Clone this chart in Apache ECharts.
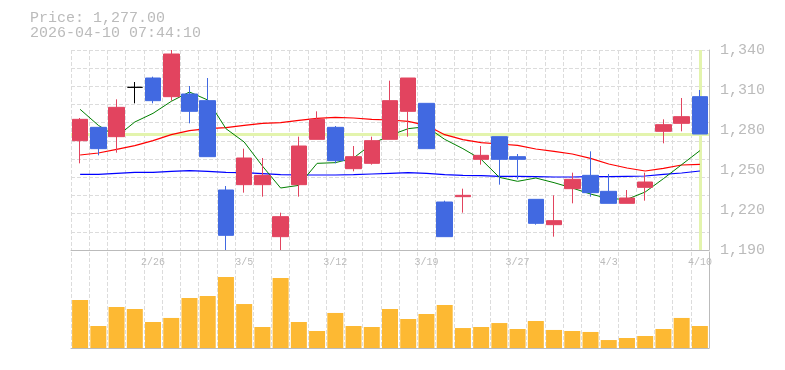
<!DOCTYPE html>
<html><head><meta charset="utf-8">
<script src="https://cdn.jsdelivr.net/npm/echarts@6/dist/echarts.min.js"></script>
<style>html,body{margin:0;padding:0;background:#fff}#c{width:785px;height:370px}</style>
</head><body><div id="c"></div>
<script>
const dates = ['2/19','2/20','2/24','2/25','2/26','2/27','3/2','3/3','3/4','3/5','3/6','3/9','3/10','3/11','3/12','3/13','3/16','3/17','3/18','3/19','3/23','3/24','3/25','3/26','3/27','3/30','3/31','4/1','4/2','4/3','4/6','4/7','4/8','4/9','4/10'];
const opens  = [1272,1282,1275,1312,1319,1305,1307,1302,1235,1239,1239,1200,1239,1273,1282,1251,1255,1273,1294,1300,1226,1230,1258,1275,1260,1228,1209,1236,1246,1234,1225,1237,1279,1285,1305];
const closes = [1288,1266,1297,1312,1302,1337,1294,1260,1201,1259,1246,1215,1268,1288,1257,1260,1272,1302,1319,1266,1200,1231,1261,1258,1258,1210,1212,1243,1233,1225,1229,1241,1284,1290,1277];
const lows   = [1255,1261,1263,1300,1300,1302,1285,1260,1190,1233,1230,1190,1230,1273,1255,1249,1254,1273,1275,1266,1200,1218,1254,1239,1243,1209,1200,1225,1230,1225,1225,1227,1270,1279,1277];
const highs  = [1289,1282,1303,1316,1320,1340,1313,1319,1238,1266,1259,1218,1275,1294,1283,1268,1275,1317,1319,1300,1227,1236,1268,1275,1262,1228,1231,1248,1264,1247,1235,1248,1288,1304,1310];
const volumes = [50,22.9,42.7,40.6,27.1,31.3,52.1,54.2,74,45.8,21.9,72.9,27.1,17.7,36.5,22.9,21.9,40.6,30.2,35.4,44.8,20.8,21.9,26,19.8,28.1,18.8,17.7,16.7,8.3,10.4,12.5,19.8,31.3,22.9];
const ma5  = [1295.5,1283.5,1275,1286,1292.5,1301.5,1308.5,1302.5,1281,1271,1253,1236.5,1238.5,1255,1255.5,1259,1269.5,1276,1281,1282.5,1273,1266,1258,1244.5,1241.5,1244,1240.5,1236.5,1232,1228.5,1228,1233.5,1243.5,1254,1264.5];
const ma25 = [1261.25,1262.75,1265.5,1268.25,1272,1276.5,1279.5,1281,1281.75,1283.5,1285,1285.5,1287.25,1288.75,1289.5,1289,1288,1287.5,1286.5,1283.5,1276.5,1272.75,1270.5,1269.5,1268.5,1265.75,1264,1262,1258.75,1254.5,1251.5,1249.25,1251.25,1253.75,1254.25];
const ma75 = [1246.75,1246.75,1247.5,1248.25,1248.25,1249,1249.5,1249,1248.25,1248,1247.25,1246.5,1246.25,1246.25,1246.25,1246.5,1247,1247.5,1248,1247.5,1246.5,1246,1245.75,1245.25,1245.25,1245,1244.75,1244.75,1245,1245,1245.25,1245.5,1246.75,1247.75,1249.25];
const priceMin = 1190, priceMax = 1340, priceStep = 30;
const lastPrice = 1277;
const stamp = '2026-04-10 07:44:10';
const dojiIndex = [3];

const RED = '#E2445F', BLUE = '#4169E1', GRAY = '#bbbbbb', GRID = '#dcdcdc';
const candleData = dates.map((d, i) => {
  const v = [opens[i], closes[i], lows[i], highs[i]];
  if (dojiIndex.includes(i)) {
    return { value: v, itemStyle: { color: '#000', color0: '#000', borderColor: '#000', borderColor0: '#000', borderColorDoji: '#000' } };
  }
  return v;
});
const fmt = v => v.toLocaleString('en-US');
const chart = echarts.init(document.getElementById('c'), null, { renderer: 'canvas' });
const dash = { color: GRID, type: [4, 2], width: 1 };
chart.setOption({
  animation: false,
  backgroundColor: '#fff',
  title: {
    text: 'Price: ' + lastPrice.toLocaleString('en-US', { minimumFractionDigits: 2 }) + '\n' + stamp,
    left: 25, top: 6,
    textStyle: { fontFamily: 'Liberation Mono', fontSize: 15, lineHeight: 15, color: GRAY, fontWeight: 'normal' }
  },
  grid: [
    { left: 71, right: 76, top: 50, height: 200 },
    { left: 71, right: 76, top: 252, height: 96 }
  ],
  xAxis: [
    { type: 'category', gridIndex: 0, data: dates, boundaryGap: true,
      axisLine: { show: true, lineStyle: { color: GRAY } }, axisTick: { show: false },
      axisLabel: { interval: (i) => i % 5 === 4, margin: 7, fontFamily: 'Liberation Mono', fontSize: 10, color: GRAY },
      splitLine: { show: true, interval: 0, lineStyle: dash } },
    { type: 'category', gridIndex: 1, data: dates, boundaryGap: true,
      axisLine: { show: true, lineStyle: { color: GRAY } }, axisTick: { show: false },
      axisLabel: { show: false },
      splitLine: { show: true, interval: 0, lineStyle: dash } }
  ],
  yAxis: [
    { type: 'value', gridIndex: 0, position: 'right', min: priceMin, max: priceMax, interval: priceStep,
      axisLine: { show: true, lineStyle: { color: GRAY } }, axisTick: { show: false },
      splitLine: { show: false },
      axisLabel: { formatter: fmt, margin: 11, fontFamily: 'Liberation Mono', fontSize: 15, color: GRAY, verticalAlign: 'middle', padding: [6, 0, 0, 0] } },
    { type: 'value', gridIndex: 0, position: 'left', min: 0, max: 11, interval: 1,
      axisLine: { show: false }, axisTick: { show: false }, axisLabel: { show: false },
      splitLine: { show: true, lineStyle: dash } },
    { type: 'value', gridIndex: 1, position: 'right', min: 0, max: 100,
      axisLine: { show: true, lineStyle: { color: GRAY } }, axisTick: { show: false }, axisLabel: { show: false },
      splitLine: { show: false } }
  ],
  series: [
    { type: 'line', xAxisIndex: 0, yAxisIndex: 0, data: ma75, symbol: 'none', z: 2,
      lineStyle: { color: '#0000ff', width: 1.2 } },
    { type: 'line', xAxisIndex: 0, yAxisIndex: 0, data: ma25, symbol: 'none', z: 2,
      lineStyle: { color: '#ff0000', width: 1.2 } },
    { type: 'line', xAxisIndex: 0, yAxisIndex: 0, data: ma5, symbol: 'none', z: 2,
      lineStyle: { color: '#008000', width: 1 } },
    { type: 'candlestick', xAxisIndex: 0, yAxisIndex: 0, data: candleData, barWidth: 16, z: 3,
      itemStyle: { color: RED, color0: BLUE, borderColor: RED, borderColor0: BLUE, borderWidth: 1 },
      markLine: {
        silent: true, symbol: 'none', z: 1, label: { show: false },
        lineStyle: { color: '#e3f4ad', width: 3, type: 'solid' },
        data: [ { yAxis: lastPrice }, { xAxis: dates[dates.length - 1] } ]
      } },
    { type: 'bar', xAxisIndex: 1, yAxisIndex: 2, data: volumes, barWidth: 16,
      itemStyle: { color: '#FDB933' } }
  ]
});
</script></body></html>
